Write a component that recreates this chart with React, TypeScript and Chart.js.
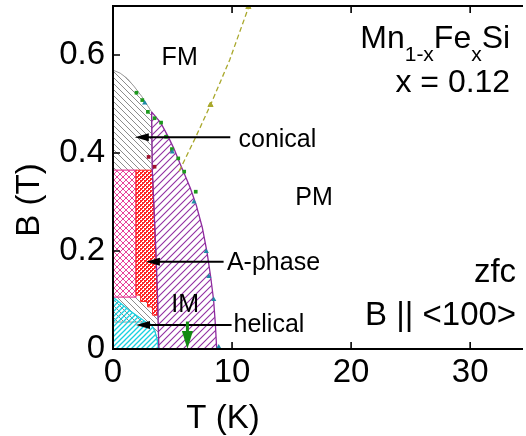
import React, { useEffect, useRef } from 'react';
import { Chart, registerables } from 'chart.js';

Chart.register(...registerables);

const W = 526;
const H = 436;
const FONT = "'Liberation Sans', Arial, Helvetica, sans-serif";

// ---- axes ----
const xMin = 0;
const xMax = 34.27;
const yMin = 0;
const yMax = 0.7;
const xTicks = [0, 10, 20, 30];
const xTickLabels = ['0', '10', '20', '30'];
const yTicks = [0, 0.2, 0.4, 0.6];
const yTickLabels = ['0', '0.2', '0.4', '0.6'];
const xTitle = 'T (K)';
const yTitle = 'B (T)';

// ---- phase regions (T in K, B in T) ----
const conicalT = [0, 0.6, 1.2, 1.8, 2.4, 2.9, 3.24, 3.3, 3.6, 3.75, 3.85, 3.7, 3.5, 3.2, 2.75, 0];
const conicalB = [0.569, 0.563, 0.552, 0.535, 0.516, 0.497, 0.484, 0.365, 0.2, 0.1, 0, 0.02, 0.038, 0.05, 0.055, 0.055];

const helicalT = [0, 0, 1.3, 2.75, 3.2, 3.5, 3.7, 3.85];
const helicalB = [0, 0.106, 0.08, 0.055, 0.05, 0.038, 0.02, 0];

const aPinkT = [0, 1.93, 1.93, 0];
const aPinkB = [0.106, 0.106, 0.365, 0.365];

const aRedT = [1.93, 3.3, 3.5, 3.65, 3.73, 3.73, 3.32, 3.32, 2.9, 2.9, 2.32, 2.32, 1.93];
const aRedB = [0.365, 0.365, 0.25, 0.15, 0.1, 0.069, 0.069, 0.086, 0.086, 0.097, 0.097, 0.11, 0.11];

const imT = [3.24, 4.0, 4.6, 5.1, 5.6, 6.0, 6.5, 7.0, 7.5, 7.9, 8.2, 8.45, 8.6, 8.71, 3.85, 3.75, 3.6, 3.3];
const imB = [0.484, 0.462, 0.435, 0.41, 0.38, 0.357, 0.328, 0.293, 0.248, 0.197, 0.148, 0.1, 0.05, 0, 0, 0.1, 0.2, 0.365];

// ---- measured points ----
const greenT = [1.97, 2.46, 2.93, 3.49, 4.04, 4.46, 4.95, 5.48, 5.98, 6.95];
const greenB = [0.523, 0.508, 0.484, 0.471, 0.462, 0.433, 0.408, 0.389, 0.362, 0.321];
const tealT = [2.66, 4.98, 6.8, 7.83, 8.05, 8.46, 8.88];
const tealB = [0.502, 0.402, 0.3, 0.199, 0.148, 0.101, 0.004];
const darkRedT = [2.99, 3.49];
const darkRedB = [0.392, 0.372];

// ---- dashed crossover line ----
const dashT = [5.56, 6.9, 8.19, 9.8, 11.5];
const dashB = [0.363, 0.43, 0.498, 0.59, 0.705];
const dashMarkT = [8.19, 11.37];
const dashMarkB = [0.498, 0.698];

// ---- annotations ----
const labelTexts = ['FM', 'PM', 'IM', 'conical', 'A-phase', 'helical'];
const labelT = [5.6, 16.89, 6.06, 10.54, 9.57, 10.12];
const labelB = [0.58, 0.294, 0.076, 0.413, 0.161, 0.035];
const labelAlign = ['center', 'center', 'center', 'left', 'left', 'left'];

const arrowFromT = [9.85, 9.29, 9.96];
const arrowToT = [1.83, 2.76, 1.93];
const arrowB = [0.432, 0.178, 0.049];

const greenArrowT = 6.25;
const greenArrowFromB = 0.056;
const greenArrowToB = 0;

const sideTexts = ['x = 0.12', 'zfc', 'B || <100>'];
const sideT = [33.36, 33.86, 33.86];
const sideB = [0.525, 0.137, 0.049];
const formulaParts = [
  { t: 'Mn', sub: false },
  { t: '1-x', sub: true },
  { t: 'Fe', sub: false },
  { t: 'x', sub: true },
  { t: 'Si', sub: false },
];
const formulaT = 33.36;
const formulaB = 0.6137;

const pts = (T: number[], B: number[]) => T.map((t, i) => ({ x: t, y: B[i] }));
const closed = (T: number[], B: number[]) => {
  const p = pts(T, B);
  p.push({ ...p[0] });
  return p;
};

function makePattern(
  ctx: CanvasRenderingContext2D,
  size: number,
  color: string,
  dirs: string[],
  lw: number,
  bg?: string
) {
  const c = document.createElement('canvas');
  c.width = size;
  c.height = size;
  const g = c.getContext('2d')!;
  if (bg) {
    g.fillStyle = bg;
    g.fillRect(0, 0, size, size);
  }
  g.strokeStyle = color;
  g.lineWidth = lw;
  for (const d of dirs) {
    g.beginPath();
    if (d === '/') {
      g.moveTo(-1, size + 1);
      g.lineTo(size + 1, -1);
      g.moveTo(-2, 2);
      g.lineTo(2, -2);
      g.moveTo(size - 2, size + 2);
      g.lineTo(size + 2, size - 2);
    } else {
      g.moveTo(-1, -1);
      g.lineTo(size + 1, size + 1);
      g.moveTo(size - 2, -2);
      g.lineTo(size + 2, 2);
      g.moveTo(-2, size - 2);
      g.lineTo(2, size + 2);
    }
    g.stroke();
  }
  return ctx.createPattern(c, 'repeat')!;
}

function makeChecker(ctx: CanvasRenderingContext2D, color: string) {
  const c = document.createElement('canvas');
  c.width = 4;
  c.height = 4;
  const g = c.getContext('2d')!;
  g.fillStyle = '#ffffff';
  g.fillRect(0, 0, 4, 4);
  g.fillStyle = color;
  g.fillRect(0, 0, 2, 2);
  g.fillRect(2, 2, 2, 2);
  g.fillRect(2, 0, 1, 1);
  g.fillRect(0, 2, 1, 1);
  return ctx.createPattern(c, 'repeat')!;
}

function arrowHead(ctx: CanvasRenderingContext2D, x: number, y: number, dx: number, dy: number, len: number, half: number) {
  const bx = x - dx * len;
  const by = y - dy * len;
  ctx.beginPath();
  ctx.moveTo(x, y);
  ctx.lineTo(bx - dy * half, by + dx * half);
  ctx.lineTo(bx + dy * half, by - dx * half);
  ctx.closePath();
  ctx.fill();
}

const annotationPlugin = {
  id: 'annotations',
  afterDatasetsDraw(chart: any) {
    const { ctx } = chart;
    const xs = chart.scales.x;
    const ys = chart.scales.y;
    ctx.save();
    // black arrows
    ctx.strokeStyle = '#000';
    ctx.fillStyle = '#000';
    ctx.lineWidth = 2;
    for (let i = 0; i < arrowB.length; i++) {
      const x0 = xs.getPixelForValue(arrowFromT[i]);
      const x1 = xs.getPixelForValue(arrowToT[i]);
      const y = ys.getPixelForValue(arrowB[i]);
      ctx.beginPath();
      ctx.moveTo(x0, y);
      ctx.lineTo(x1 + 8, y);
      ctx.stroke();
      arrowHead(ctx, x1, y, -1, 0, 14, 4);
    }
    // green arrow
    {
      const x = xs.getPixelForValue(greenArrowT);
      const y0 = ys.getPixelForValue(greenArrowFromB);
      const y1 = ys.getPixelForValue(greenArrowToB);
      ctx.strokeStyle = '#138a13';
      ctx.fillStyle = '#138a13';
      ctx.lineWidth = 3;
      ctx.beginPath();
      ctx.moveTo(x, y0);
      ctx.lineTo(x, y1 - 10);
      ctx.stroke();
      arrowHead(ctx, x, y1, 0, 1, 18, 5.5);
    }
    // region labels
    ctx.fillStyle = '#000';
    ctx.font = `25px ${FONT}`;
    ctx.textBaseline = 'alphabetic';
    for (let i = 0; i < labelTexts.length; i++) {
      ctx.textAlign = labelAlign[i] as CanvasTextAlign;
      ctx.fillText(labelTexts[i], xs.getPixelForValue(labelT[i]), ys.getPixelForValue(labelB[i]));
    }
    // formula with subscripts, right aligned
    const mainF = `32px ${FONT}`;
    const subF = `21px ${FONT}`;
    let total = 0;
    for (const p of formulaParts) {
      ctx.font = p.sub ? subF : mainF;
      total += ctx.measureText(p.t).width;
    }
    let fx = xs.getPixelForValue(formulaT) - total;
    const fy = ys.getPixelForValue(formulaB);
    ctx.textAlign = 'left';
    for (const p of formulaParts) {
      ctx.font = p.sub ? subF : mainF;
      ctx.fillText(p.t, fx, p.sub ? fy + 13 : fy);
      fx += ctx.measureText(p.t).width;
    }
    ctx.textAlign = 'right';
    for (let i = 0; i < sideTexts.length; i++) {
      ctx.font = i === 0 ? mainF : `33px ${FONT}`;
      ctx.fillText(sideTexts[i], xs.getPixelForValue(sideT[i]), ys.getPixelForValue(sideB[i]));
    }
    ctx.restore();
  },
  afterDraw(chart: any) {
    const { ctx, chartArea } = chart;
    const { left, right, top, bottom } = chartArea;
    const xs = chart.scales.x;
    const ys = chart.scales.y;
    ctx.save();
    ctx.strokeStyle = '#000';
    ctx.lineWidth = 2;
    ctx.beginPath();
    ctx.moveTo(right + 2, top);
    ctx.lineTo(left, top);
    ctx.lineTo(left, bottom);
    ctx.lineTo(right + 2, bottom);
    ctx.stroke();
    ctx.lineWidth = 1.6;
    ctx.beginPath();
    for (const v of xTicks) {
      if (v === xMin) continue;
      const x = xs.getPixelForValue(v);
      ctx.moveTo(x, bottom);
      ctx.lineTo(x, bottom - 7);
      ctx.moveTo(x, top);
      ctx.lineTo(x, top + 7);
    }
    for (const v of yTicks) {
      if (v === yMin) continue;
      const y = ys.getPixelForValue(v);
      ctx.moveTo(left, y);
      ctx.lineTo(left + 7, y);
    }
    ctx.stroke();
    // axis titles
    ctx.fillStyle = '#000';
    ctx.font = `33px ${FONT}`;
    ctx.textAlign = 'center';
    ctx.textBaseline = 'alphabetic';
    ctx.fillText(xTitle, 223, 428);
    ctx.translate(39, 200);
    ctx.rotate(-Math.PI / 2);
    ctx.fillText(yTitle, 0, 0);
    ctx.restore();
  },
};

export default function App() {
  const ref = useRef<HTMLCanvasElement>(null);
  useEffect(() => {
    const canvas = ref.current!;
    const ctx = canvas.getContext('2d')!;
    const grayPat = makePattern(ctx, 6, '#8c8c8c', ['\\'], 1);
    const cyanPat = makePattern(ctx, 5, '#18d0e0', ['/'], 1.3);
    const pinkPat = makePattern(ctx, 6, '#e8449a', ['/', '\\'], 1, '#ffffff');
    const redPat = makeChecker(ctx, '#ff2626');
    const purplePat = makePattern(ctx, 7, '#9230a2', ['/'], 1.1);

    const region = (data: any[], bg: any, border: string, bw: number, order: number) => ({
      data,
      showLine: true,
      fill: 'shape',
      backgroundColor: bg,
      borderColor: border,
      borderWidth: bw,
      pointRadius: 0,
      tension: 0,
      order,
    });

    const chart = new Chart(canvas, {
      type: 'scatter',
      data: {
        datasets: [
          region(closed(conicalT, conicalB), grayPat, '#9a9a9a', 1, 20),
          region(closed(helicalT, helicalB), cyanPat, '#18d0e0', 1.2, 19),
          region(closed(aPinkT, aPinkB), pinkPat, '#e8449a', 1.2, 18),
          region(closed(aRedT, aRedB), redPat, '#ff2626', 1, 17),
          region(closed(imT, imB), purplePat, '#8e2a9e', 1.3, 16),
          {
            data: pts(dashT, dashB),
            showLine: true,
            borderColor: '#a9a82c',
            borderWidth: 1.3,
            borderDash: [5, 3],
            pointRadius: 0,
            fill: false,
            order: 10,
          },
          {
            data: pts(dashMarkT, dashMarkB),
            pointStyle: 'triangle',
            pointRadius: 3,
            backgroundColor: '#a9a82c',
            borderColor: '#a9a82c',
            borderWidth: 1,
            order: 5,
          },
          {
            data: pts(greenT, greenB),
            pointStyle: 'rect',
            pointRadius: 2.6,
            backgroundColor: '#1d9a1d',
            borderColor: '#1d9a1d',
            borderWidth: 0,
            order: 3,
          },
          {
            data: pts(tealT, tealB),
            pointStyle: 'triangle',
            pointRadius: 3,
            backgroundColor: '#1f8aa6',
            borderColor: '#1f8aa6',
            borderWidth: 0,
            order: 2,
          },
          {
            data: pts(darkRedT, darkRedB),
            pointStyle: 'rect',
            pointRadius: 2.6,
            backgroundColor: '#a0102c',
            borderColor: '#a0102c',
            borderWidth: 0,
            order: 1,
          },
        ] as any,
      },
      options: {
        responsive: false,
        animation: false,
        events: [],
        devicePixelRatio: 1,
        layout: { padding: { top: 6, right: 0, left: 0, bottom: 0 } },
        plugins: {
          legend: { display: false },
          tooltip: { enabled: false },
        },
        scales: {
          x: {
            type: 'linear',
            min: xMin,
            max: xMax,
            afterBuildTicks: (s: any) => {
              s.ticks = xTicks.map((v) => ({ value: v }));
            },
            afterFit: (s: any) => {
              s.height = H - 349;
              s.paddingLeft = 0;
              s.paddingRight = 0;
            },
            ticks: {
              callback: (_v: any, i: number) => xTickLabels[i],
              font: { family: FONT, size: 33 },
              color: '#000',
              padding: 4,
              maxRotation: 0,
            },
            grid: { display: false, drawTicks: false, tickLength: 0 },
            border: { display: false },
          },
          y: {
            type: 'linear',
            min: yMin,
            max: yMax,
            afterBuildTicks: (s: any) => {
              s.ticks = yTicks.map((v) => ({ value: v }));
            },
            afterFit: (s: any) => {
              s.width = 113;
              s.paddingTop = 0;
              s.paddingBottom = 0;
            },
            ticks: {
              callback: (_v: any, i: number) => yTickLabels[i],
              font: { family: FONT, size: 33 },
              color: '#000',
              padding: 8,
            },
            grid: { display: false, drawTicks: false, tickLength: 0 },
            border: { display: false },
          },
        },
      } as any,
      plugins: [annotationPlugin],
    });
    return () => chart.destroy();
  }, []);

  return (
    <div style={{ position: 'fixed', left: 0, top: 0, width: W, height: H, background: '#fff' }}>
      <canvas ref={ref} width={W} height={H} style={{ display: 'block', width: W, height: H }} />
    </div>
  );
}
